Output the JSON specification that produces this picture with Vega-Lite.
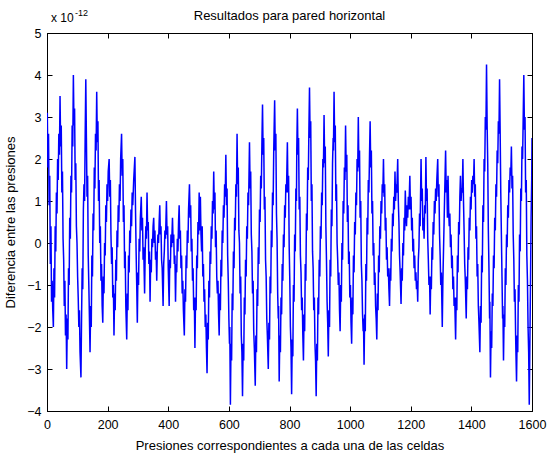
{
  "$schema": "https://vega.github.io/schema/vega-lite/v6.json",
  "width": 485,
  "height": 378,
  "autosize": {"type": "none"},
  "padding": {"left": 47, "top": 33, "right": 18, "bottom": 47},
  "background": "white",
  "config": {
    "view": {"stroke": "black", "strokeWidth": 1},
    "font": "Liberation Sans",
    "axis": {
      "grid": false,
      "domainColor": "black",
      "tickColor": "black",
      "labelColor": "black",
      "titleColor": "black",
      "labelFont": "Liberation Sans",
      "titleFont": "Liberation Sans",
      "labelFontSize": 12.5,
      "titleFontSize": 13,
      "titleFontWeight": "normal",
      "tickSize": -5
    },
    "title": {"font": "Liberation Sans", "fontSize": 13, "fontWeight": "normal", "color": "black"}
  },
  "title": {"text": "Resultados para pared horizontal", "offset": 0, "dy": 14, "anchor": "middle"},
  "data": {
    "values": [
      {"x":0,"y":2.4},{"x":1,"y":3.1},{"x":3,"y":1.8},{"x":5,"y":2.6},{"x":7,"y":0.9},{"x":9,"y":1.6},{"x":11,"y":-0.5},{"x":13,"y":0.4},{"x":15,"y":-1.4},{"x":17,"y":-0.9},{"x":19,"y":-1.6},{"x":21,"y":-2.0},
      {"x":23,"y":-0.6},{"x":25,"y":-1.3},{"x":27,"y":0.4},{"x":29,"y":-0.2},{"x":31,"y":1.2},{"x":33,"y":0.7},{"x":35,"y":2.0},{"x":37,"y":1.5},{"x":39,"y":2.6},{"x":41,"y":2.1},{"x":43,"y":3.5},
      {"x":45,"y":2.3},{"x":47,"y":2.8},{"x":49,"y":1.2},{"x":51,"y":1.7},{"x":53,"y":0.1},{"x":55,"y":-0.4},{"x":57,"y":-1.5},{"x":59,"y":-0.9},{"x":61,"y":-2.2},{"x":63,"y":-1.7},{"x":65,"y":-3.0},
      {"x":67,"y":-1.8},{"x":69,"y":-2.3},{"x":71,"y":-0.6},{"x":73,"y":-1.0},{"x":75,"y":0.6},{"x":77,"y":0.1},{"x":79,"y":1.6},{"x":81,"y":1.2},{"x":83,"y":2.8},{"x":85,"y":2.3},{"x":87,"y":4.0},
      {"x":89,"y":2.8},{"x":91,"y":3.2},{"x":93,"y":1.5},{"x":95,"y":1.9},{"x":97,"y":0.4},{"x":99,"y":0.0},{"x":101,"y":-0.8},{"x":103,"y":-1.3},{"x":105,"y":-2.0},{"x":107,"y":-1.6},{"x":109,"y":-2.6},{"x":112,"y":-3.2},
      {"x":114,"y":-1.8},{"x":116,"y":-0.6},{"x":118,"y":-1.1},{"x":120,"y":0.8},{"x":122,"y":1.4},{"x":124,"y":1.0},{"x":126,"y":2.6},{"x":128,"y":3.9},
      {"x":130,"y":2.5},{"x":132,"y":1.1},{"x":134,"y":1.6},{"x":136,"y":-0.3},{"x":138,"y":-1.0},{"x":140,"y":-1.8},{"x":142,"y":-2.6},
      {"x":144,"y":-1.5},{"x":146,"y":-2.0},{"x":148,"y":-0.3},{"x":150,"y":-0.8},{"x":152,"y":0.7},{"x":154,"y":0.3},{"x":156,"y":1.8},{"x":158,"y":1.3},{"x":160,"y":2.6},{"x":162,"y":2.2},{"x":164,"y":3.6},
      {"x":166,"y":2.4},{"x":168,"y":2.9},{"x":170,"y":1.0},{"x":172,"y":1.5},{"x":174,"y":0.0},{"x":176,"y":0.4},{"x":178,"y":-0.9},{"x":180,"y":-0.5},{"x":182,"y":-1.5},{"x":184,"y":-1.9},
      {"x":186,"y":-0.8},{"x":188,"y":-1.2},{"x":190,"y":0.0},{"x":192,"y":-0.3},{"x":194,"y":0.9},{"x":196,"y":0.5},{"x":198,"y":1.4},{"x":200,"y":1.0},{"x":202,"y":1.7},{"x":205,"y":2.0},
      {"x":207,"y":1.1},{"x":209,"y":1.5},{"x":211,"y":0.2},{"x":213,"y":-0.5},{"x":215,"y":-0.1},{"x":217,"y":-1.3},{"x":219,"y":-1.0},{"x":221,"y":-2.2},
      {"x":223,"y":-1.2},{"x":225,"y":-1.6},{"x":227,"y":-0.4},{"x":229,"y":-0.9},{"x":231,"y":0.3},{"x":233,"y":-0.1},{"x":235,"y":0.9},{"x":237,"y":0.5},{"x":239,"y":1.4},{"x":241,"y":1.0},{"x":243,"y":2.0},{"x":246,"y":2.6},
      {"x":248,"y":1.6},{"x":250,"y":2.0},{"x":252,"y":0.5},{"x":254,"y":0.9},{"x":256,"y":-0.6},{"x":258,"y":-0.2},{"x":260,"y":-1.5},{"x":263,"y":-2.3},
      {"x":265,"y":-1.2},{"x":267,"y":-1.6},{"x":269,"y":-0.3},{"x":271,"y":-0.7},{"x":273,"y":0.3},{"x":275,"y":0.0},{"x":277,"y":0.8},{"x":279,"y":0.4},{"x":281,"y":1.2},{"x":283,"y":0.9},{"x":286,"y":1.5},{"x":290,"y":2.05},
      {"x":292,"y":0.8},{"x":294,"y":-0.2},{"x":296,"y":-1.0},{"x":298,"y":-1.9},
      {"x":300,"y":-0.7},{"x":302,"y":-1.0},{"x":304,"y":0.1},{"x":306,"y":-0.2},{"x":308,"y":0.6},{"x":311,"y":1.1},
      {"x":313,"y":0.3},{"x":315,"y":0.6},{"x":317,"y":-0.4},{"x":319,"y":-0.1},{"x":322,"y":-1.2},
      {"x":324,"y":-0.2},{"x":326,"y":0.4},{"x":328,"y":0.1},{"x":330,"y":1.2},
      {"x":332,"y":0.3},{"x":334,"y":0.5},{"x":336,"y":-0.5},{"x":338,"y":-0.2},{"x":340,"y":-1.4},
      {"x":342,"y":-0.4},{"x":344,"y":-0.7},{"x":346,"y":0.1},{"x":348,"y":-0.1},{"x":350,"y":0.4},{"x":352,"y":0.6},
      {"x":354,"y":0.0},{"x":356,"y":0.3},{"x":358,"y":-0.4},{"x":360,"y":-0.2},{"x":362,"y":-0.9},
      {"x":364,"y":-0.1},{"x":366,"y":0.2},{"x":368,"y":0.0},{"x":370,"y":0.5},{"x":372,"y":0.9},
      {"x":374,"y":0.2},{"x":376,"y":0.4},{"x":378,"y":-0.4},{"x":380,"y":-0.6},{"x":383,"y":-1.5},
      {"x":385,"y":-0.5},{"x":387,"y":-0.2},{"x":389,"y":0.3},{"x":391,"y":0.1},{"x":394,"y":1.0},
      {"x":396,"y":0.2},{"x":398,"y":0.4},{"x":400,"y":-0.6},{"x":403,"y":-1.5},
      {"x":405,"y":-0.4},{"x":407,"y":-0.6},{"x":409,"y":0.2},{"x":411,"y":-0.1},{"x":414,"y":0.6},
      {"x":416,"y":0.0},{"x":418,"y":0.2},{"x":420,"y":-0.5},{"x":422,"y":-0.3},{"x":424,"y":-1.4},
      {"x":426,"y":-0.5},{"x":428,"y":-0.7},{"x":430,"y":0.1},{"x":432,"y":-0.2},{"x":434,"y":0.5},{"x":436,"y":0.9},
      {"x":438,"y":0.1},{"x":440,"y":0.3},{"x":442,"y":-0.6},{"x":444,"y":-0.3},{"x":446,"y":-1.2},{"x":448,"y":-0.9},{"x":450,"y":-1.6},{"x":453,"y":-2.2},
      {"x":455,"y":-1.1},{"x":457,"y":-1.4},{"x":459,"y":-0.3},{"x":461,"y":-0.6},{"x":463,"y":0.3},{"x":465,"y":0.0},{"x":467,"y":0.8},{"x":470,"y":1.4},
      {"x":472,"y":0.6},{"x":474,"y":0.9},{"x":476,"y":-0.2},{"x":478,"y":0.1},{"x":480,"y":-0.9},{"x":482,"y":-0.6},{"x":484,"y":-1.6},{"x":486,"y":-1.3},{"x":488,"y":-2.5},
      {"x":490,"y":-1.3},{"x":492,"y":-1.6},{"x":494,"y":-0.3},{"x":496,"y":-0.6},{"x":498,"y":0.5},{"x":500,"y":0.2},{"x":502,"y":1.2},
      {"x":504,"y":0.3},{"x":506,"y":1.1},{"x":508,"y":0.2},{"x":510,"y":-0.2},{"x":512,"y":0.4},{"x":514,"y":-0.8},{"x":516,"y":-0.5},{"x":518,"y":-1.4},{"x":520,"y":-1.1},{"x":522,"y":-2.0},{"x":524,"y":-1.7},{"x":526,"y":-2.5},{"x":528,"y":-3.1},
      {"x":530,"y":-1.9},{"x":532,"y":-2.3},{"x":534,"y":-0.9},{"x":536,"y":-1.3},{"x":538,"y":-0.2},{"x":540,"y":-0.5},{"x":542,"y":0.4},{"x":544,"y":0.1},{"x":546,"y":1.0},{"x":548,"y":0.7},{"x":550,"y":1.7},
      {"x":552,"y":0.8},{"x":554,"y":1.2},{"x":556,"y":-0.1},{"x":558,"y":0.3},{"x":560,"y":-0.8},{"x":562,"y":-1.2},{"x":564,"y":-0.9},{"x":566,"y":-1.7},{"x":568,"y":-2.2},
      {"x":570,"y":-1.2},{"x":572,"y":-1.6},{"x":574,"y":-0.4},{"x":576,"y":-0.8},{"x":578,"y":0.3},{"x":580,"y":0.0},{"x":582,"y":0.9},{"x":584,"y":0.6},{"x":586,"y":1.4},{"x":588,"y":1.1},{"x":590,"y":2.1},
      {"x":592,"y":0.9},{"x":594,"y":1.3},{"x":596,"y":-0.3},{"x":598,"y":-0.9},{"x":600,"y":-1.8},{"x":602,"y":-2.4},{"x":603,"y":-2.0},{"x":605,"y":-3.85},
      {"x":607,"y":-2.4},{"x":609,"y":-2.8},{"x":611,"y":-1.2},{"x":613,"y":-1.6},{"x":615,"y":-0.2},{"x":617,"y":-0.6},{"x":619,"y":0.6},{"x":621,"y":0.3},{"x":623,"y":1.4},{"x":625,"y":1.1},{"x":627,"y":2.6},
      {"x":629,"y":1.4},{"x":631,"y":1.8},{"x":633,"y":0.3},{"x":635,"y":0.0},{"x":637,"y":-1.2},{"x":639,"y":-0.8},{"x":641,"y":-2.2},{"x":643,"y":-2.6},{"x":645,"y":-3.65},
      {"x":647,"y":-2.4},{"x":649,"y":-2.8},{"x":651,"y":-1.3},{"x":653,"y":-1.7},{"x":655,"y":-0.4},{"x":657,"y":-0.8},{"x":659,"y":0.4},{"x":661,"y":0.1},{"x":663,"y":1.2},{"x":665,"y":0.9},{"x":668,"y":2.4},
      {"x":670,"y":1.3},{"x":672,"y":1.7},{"x":674,"y":0.2},{"x":676,"y":-0.2},{"x":678,"y":-1.2},{"x":680,"y":-0.9},{"x":682,"y":-2.1},{"x":684,"y":-2.5},{"x":687,"y":-3.4},
      {"x":689,"y":-2.2},{"x":691,"y":-2.6},{"x":693,"y":-1.1},{"x":695,"y":-1.5},{"x":697,"y":-0.1},{"x":699,"y":-0.5},{"x":701,"y":0.8},{"x":703,"y":0.5},{"x":705,"y":1.6},{"x":707,"y":1.3},{"x":709,"y":2.4},{"x":711,"y":3.3},
      {"x":713,"y":2.1},{"x":715,"y":2.5},{"x":717,"y":0.8},{"x":719,"y":1.1},{"x":721,"y":-0.4},{"x":723,"y":-0.8},{"x":725,"y":-1.8},{"x":727,"y":-2.2},{"x":730,"y":-3.0},
      {"x":732,"y":-1.9},{"x":734,"y":-2.3},{"x":736,"y":-0.8},{"x":738,"y":-1.2},{"x":740,"y":0.3},{"x":742,"y":-0.1},{"x":744,"y":1.2},{"x":746,"y":0.9},{"x":748,"y":2.2},{"x":751,"y":3.4},
      {"x":753,"y":2.2},{"x":755,"y":2.6},{"x":757,"y":0.7},{"x":759,"y":0.1},{"x":761,"y":-1.2},{"x":763,"y":-1.8},{"x":764,"y":-1.5},{"x":766,"y":-3.3},
      {"x":768,"y":-2.2},{"x":770,"y":-2.6},{"x":772,"y":-1.3},{"x":774,"y":-1.7},{"x":776,"y":-0.5},{"x":778,"y":-0.9},{"x":780,"y":0.2},{"x":782,"y":-0.1},{"x":784,"y":0.9},{"x":786,"y":0.6},{"x":788,"y":1.4},{"x":790,"y":1.2},{"x":793,"y":2.4},
      {"x":795,"y":1.2},{"x":797,"y":1.6},{"x":799,"y":-0.1},{"x":801,"y":-0.9},{"x":803,"y":-2.0},{"x":805,"y":-2.5},{"x":807,"y":-3.6},
      {"x":809,"y":-2.3},{"x":811,"y":-2.7},{"x":813,"y":-1.0},{"x":815,"y":-1.4},{"x":817,"y":0.2},{"x":819,"y":-0.2},{"x":821,"y":1.3},{"x":823,"y":1.0},{"x":824,"y":2.2},{"x":826,"y":3.2},
      {"x":828,"y":2.1},{"x":830,"y":2.5},{"x":832,"y":0.8},{"x":834,"y":1.1},{"x":836,"y":-0.3},{"x":838,"y":-0.7},{"x":840,"y":-1.6},{"x":842,"y":-1.3},{"x":844,"y":-2.2},{"x":846,"y":-2.8},
      {"x":848,"y":-1.7},{"x":850,"y":-2.1},{"x":852,"y":-0.5},{"x":854,"y":-0.9},{"x":856,"y":0.7},{"x":858,"y":0.3},{"x":860,"y":1.8},{"x":862,"y":1.5},{"x":864,"y":2.7},{"x":866,"y":3.7},
      {"x":868,"y":2.5},{"x":870,"y":2.9},{"x":872,"y":1.0},{"x":874,"y":1.4},{"x":876,"y":-0.2},{"x":878,"y":-0.6},{"x":880,"y":-1.6},{"x":882,"y":-1.3},{"x":884,"y":-2.4},{"x":886,"y":-2.8},{"x":888,"y":-3.65},
      {"x":890,"y":-2.4},{"x":892,"y":-2.8},{"x":894,"y":-1.3},{"x":896,"y":-1.7},{"x":898,"y":-0.4},{"x":900,"y":-0.8},{"x":902,"y":0.4},{"x":904,"y":0.1},{"x":906,"y":1.2},{"x":908,"y":0.9},{"x":910,"y":2.0},{"x":912,"y":1.8},{"x":914,"y":3.05},
      {"x":916,"y":1.9},{"x":918,"y":2.3},{"x":920,"y":0.4},{"x":922,"y":-0.4},{"x":924,"y":-1.4},{"x":926,"y":-1.9},{"x":928,"y":-2.7},
      {"x":930,"y":-1.6},{"x":932,"y":-2.0},{"x":934,"y":-0.4},{"x":936,"y":-0.8},{"x":938,"y":0.8},{"x":940,"y":0.4},{"x":942,"y":1.9},{"x":944,"y":2.5},{"x":945,"y":2.2},{"x":947,"y":3.6},
      {"x":949,"y":2.4},{"x":951,"y":2.8},{"x":953,"y":1.0},{"x":955,"y":1.4},{"x":957,"y":0.0},{"x":959,"y":-0.4},{"x":961,"y":-1.0},{"x":963,"y":-0.7},{"x":965,"y":-1.6},{"x":967,"y":-2.1},
      {"x":969,"y":-1.0},{"x":971,"y":-1.4},{"x":973,"y":0.0},{"x":975,"y":-0.4},{"x":977,"y":1.0},{"x":979,"y":0.7},{"x":981,"y":1.8},{"x":983,"y":1.5},{"x":985,"y":2.8},
      {"x":987,"y":1.7},{"x":989,"y":2.1},{"x":991,"y":0.5},{"x":993,"y":0.9},{"x":995,"y":-0.5},{"x":997,"y":-0.2},{"x":999,"y":-1.3},{"x":1001,"y":-1.0},{"x":1003,"y":-1.9},{"x":1005,"y":-2.4},
      {"x":1007,"y":-1.3},{"x":1009,"y":-1.7},{"x":1011,"y":-0.3},{"x":1013,"y":-0.7},{"x":1015,"y":0.5},{"x":1017,"y":0.2},{"x":1019,"y":1.2},{"x":1021,"y":0.9},{"x":1023,"y":2.0},{"x":1025,"y":1.7},{"x":1027,"y":3.0},
      {"x":1029,"y":1.8},{"x":1031,"y":2.2},{"x":1033,"y":0.6},{"x":1035,"y":1.0},{"x":1037,"y":-0.5},{"x":1039,"y":-0.9},{"x":1041,"y":-1.7},{"x":1043,"y":-2.1},{"x":1044,"y":-1.8},{"x":1046,"y":-2.9},
      {"x":1048,"y":-1.7},{"x":1050,"y":-2.1},{"x":1052,"y":-0.5},{"x":1054,"y":-0.9},{"x":1056,"y":0.6},{"x":1058,"y":0.2},{"x":1060,"y":1.5},{"x":1062,"y":1.2},{"x":1064,"y":2.1},{"x":1066,"y":2.9},
      {"x":1068,"y":1.8},{"x":1070,"y":2.2},{"x":1072,"y":0.7},{"x":1074,"y":1.0},{"x":1076,"y":-0.3},{"x":1078,"y":0.0},{"x":1080,"y":-1.0},{"x":1082,"y":-0.7},{"x":1084,"y":-1.5},{"x":1086,"y":-1.8},{"x":1088,"y":-2.3},
      {"x":1090,"y":-1.2},{"x":1092,"y":-1.6},{"x":1094,"y":-0.3},{"x":1096,"y":-0.7},{"x":1098,"y":0.4},{"x":1100,"y":0.1},{"x":1102,"y":1.0},{"x":1104,"y":0.7},{"x":1106,"y":1.4},{"x":1108,"y":1.2},{"x":1110,"y":2.0},
      {"x":1112,"y":1.1},{"x":1114,"y":1.4},{"x":1116,"y":0.3},{"x":1118,"y":0.6},{"x":1120,"y":-0.4},{"x":1122,"y":-0.1},{"x":1124,"y":-0.8},{"x":1126,"y":-0.6},{"x":1128,"y":-1.1},{"x":1130,"y":-1.5},
      {"x":1132,"y":-0.6},{"x":1134,"y":-0.9},{"x":1136,"y":0.1},{"x":1138,"y":-0.2},{"x":1140,"y":0.7},{"x":1142,"y":0.4},{"x":1144,"y":1.1},{"x":1146,"y":0.8},{"x":1148,"y":1.7},{"x":1150,"y":1.0},{"x":1152,"y":1.4},{"x":1154,"y":1.2},{"x":1157,"y":2.0},
      {"x":1159,"y":1.0},{"x":1161,"y":0.5},{"x":1163,"y":-0.3},{"x":1165,"y":-0.7},{"x":1168,"y":-1.45},
      {"x":1170,"y":-0.6},{"x":1172,"y":-0.9},{"x":1174,"y":0.0},{"x":1176,"y":-0.3},{"x":1178,"y":0.6},{"x":1180,"y":0.3},{"x":1182,"y":1.25},{"x":1184,"y":0.7},{"x":1186,"y":0.4},{"x":1188,"y":0.9},{"x":1190,"y":0.6},{"x":1192,"y":1.1},{"x":1194,"y":0.8},{"x":1197,"y":1.6},
      {"x":1199,"y":0.8},{"x":1201,"y":1.1},{"x":1203,"y":0.3},{"x":1205,"y":0.6},{"x":1207,"y":-0.2},{"x":1209,"y":0.1},{"x":1211,"y":-0.6},{"x":1213,"y":-0.3},{"x":1215,"y":-0.9},{"x":1217,"y":-0.7},{"x":1219,"y":-1.1},{"x":1221,"y":-0.9},{"x":1223,"y":-1.4},
      {"x":1225,"y":-0.4},{"x":1227,"y":-0.1},{"x":1229,"y":0.7},{"x":1231,"y":0.4},{"x":1234,"y":2.0},
      {"x":1236,"y":1.0},{"x":1238,"y":1.3},{"x":1240,"y":0.3},{"x":1242,"y":0.6},{"x":1244,"y":0.1},{"x":1246,"y":0.9},{"x":1248,"y":0.7},{"x":1250,"y":2.05},
      {"x":1252,"y":1.0},{"x":1254,"y":1.3},{"x":1256,"y":0.1},{"x":1258,"y":-0.4},{"x":1260,"y":-1.0},{"x":1262,"y":-0.8},{"x":1264,"y":-1.7},
      {"x":1266,"y":-0.8},{"x":1268,"y":-1.1},{"x":1270,"y":-0.1},{"x":1272,"y":-0.4},{"x":1274,"y":0.5},{"x":1276,"y":0.2},{"x":1278,"y":1.0},{"x":1280,"y":0.7},{"x":1282,"y":1.3},{"x":1284,"y":1.0},{"x":1286,"y":1.5},{"x":1289,"y":2.0},
      {"x":1291,"y":1.1},{"x":1293,"y":1.4},{"x":1295,"y":0.2},{"x":1297,"y":-0.3},{"x":1299,"y":-1.0},{"x":1301,"y":-0.7},{"x":1304,"y":-2.0},
      {"x":1306,"y":-0.9},{"x":1308,"y":-0.2},{"x":1310,"y":0.5},{"x":1312,"y":1.2},{"x":1315,"y":2.2},
      {"x":1317,"y":1.2},{"x":1319,"y":1.5},{"x":1321,"y":0.6},{"x":1323,"y":1.6},{"x":1325,"y":0.8},{"x":1327,"y":0.4},{"x":1329,"y":0.7},{"x":1331,"y":-0.1},{"x":1333,"y":0.2},{"x":1335,"y":-0.6},{"x":1337,"y":-0.3},{"x":1339,"y":-1.1},{"x":1341,"y":-0.8},{"x":1343,"y":-1.5},{"x":1345,"y":-1.3},{"x":1348,"y":-2.3},
      {"x":1350,"y":-1.3},{"x":1352,"y":-1.6},{"x":1354,"y":-0.3},{"x":1356,"y":-0.7},{"x":1358,"y":0.5},{"x":1360,"y":0.2},{"x":1362,"y":1.1},{"x":1364,"y":1.6},{"x":1366,"y":1.0},{"x":1368,"y":1.3},{"x":1370,"y":1.2},{"x":1372,"y":2.0},
      {"x":1374,"y":1.0},{"x":1376,"y":0.3},{"x":1378,"y":-0.5},{"x":1380,"y":-0.9},{"x":1383,"y":-1.8},
      {"x":1385,"y":-0.8},{"x":1387,"y":-1.1},{"x":1389,"y":-0.1},{"x":1391,"y":-0.4},{"x":1393,"y":0.6},{"x":1395,"y":0.3},{"x":1397,"y":1.1},{"x":1399,"y":0.8},{"x":1401,"y":1.5},{"x":1403,"y":1.2},{"x":1405,"y":1.6},{"x":1407,"y":1.4},{"x":1409,"y":2.0},
      {"x":1411,"y":1.1},{"x":1413,"y":1.4},{"x":1415,"y":0.1},{"x":1417,"y":0.4},{"x":1419,"y":-0.8},{"x":1421,"y":-0.5},{"x":1423,"y":-1.5},{"x":1425,"y":-1.9},{"x":1428,"y":-2.6},
      {"x":1430,"y":-1.5},{"x":1432,"y":-1.9},{"x":1434,"y":-0.3},{"x":1436,"y":-0.7},{"x":1438,"y":0.9},{"x":1440,"y":0.5},{"x":1442,"y":2.0},{"x":1444,"y":1.7},{"x":1446,"y":3.0},{"x":1448,"y":2.7},{"x":1450,"y":4.25},
      {"x":1452,"y":2.8},{"x":1454,"y":1.9},{"x":1456,"y":0.3},{"x":1458,"y":-0.6},{"x":1460,"y":-1.8},{"x":1461,"y":-1.4},{"x":1463,"y":-3.2},
      {"x":1465,"y":-2.1},{"x":1467,"y":-2.5},{"x":1469,"y":-1.2},{"x":1471,"y":-1.5},{"x":1473,"y":-0.3},{"x":1475,"y":-0.6},{"x":1477,"y":0.6},{"x":1479,"y":0.3},{"x":1481,"y":1.4},{"x":1483,"y":1.1},{"x":1485,"y":2.2},{"x":1487,"y":1.9},{"x":1489,"y":2.9},{"x":1491,"y":2.6},{"x":1493,"y":3.9},
      {"x":1495,"y":2.6},{"x":1497,"y":1.2},{"x":1499,"y":0.2},{"x":1501,"y":-0.8},{"x":1503,"y":-1.8},{"x":1504,"y":-1.5},{"x":1506,"y":-2.8},
      {"x":1508,"y":-1.7},{"x":1510,"y":-2.0},{"x":1512,"y":-0.6},{"x":1514,"y":-1.0},{"x":1516,"y":0.2},{"x":1518,"y":-0.1},{"x":1520,"y":0.9},{"x":1522,"y":0.6},{"x":1524,"y":1.5},{"x":1526,"y":1.2},{"x":1528,"y":1.8},{"x":1530,"y":1.6},{"x":1532,"y":2.3},
      {"x":1534,"y":1.3},{"x":1536,"y":1.6},{"x":1538,"y":0.2},{"x":1540,"y":-0.4},{"x":1542,"y":-1.4},{"x":1544,"y":-1.1},{"x":1546,"y":-2.2},{"x":1547,"y":-2.6},{"x":1549,"y":-3.3},
      {"x":1551,"y":-2.2},{"x":1553,"y":-2.6},{"x":1555,"y":-1.0},{"x":1557,"y":-1.4},{"x":1559,"y":0.2},{"x":1561,"y":-0.2},{"x":1563,"y":1.3},{"x":1565,"y":1.0},{"x":1567,"y":2.3},{"x":1569,"y":2.0},{"x":1571,"y":3.0},{"x":1573,"y":4.0},
      {"x":1575,"y":2.7},{"x":1577,"y":3.0},{"x":1579,"y":1.2},{"x":1581,"y":1.5},{"x":1583,"y":-0.3},{"x":1585,"y":-0.9},{"x":1587,"y":-2.0},{"x":1589,"y":-2.6},{"x":1591,"y":-3.85},
      {"x":1593,"y":-2.4},{"x":1595,"y":-1.0},{"x":1597,"y":0.6},{"x":1599,"y":1.5},{"x":1600,"y":2.5}
    ]
  },
  "resolve": {"axis": {"x": "independent", "y": "independent"}},
  "layer": [
    {
      "mark": {"type": "line", "color": "#0000FF", "strokeWidth": 1.5, "clip": true},
      "encoding": {
        "x": {
          "field": "x", "type": "quantitative",
          "scale": {"domain": [0, 1600], "nice": false, "zero": false},
          "axis": {"orient": "bottom", "values": [0, 200, 400, 600, 800, 1000, 1200, 1400, 1600], "format": "d", "labelPadding": 12, "title": "Presiones correspondientes a cada una de las celdas", "titlePadding": 9, "labelFlush": false}
        },
        "y": {
          "field": "y", "type": "quantitative",
          "scale": {"domain": [-4, 5], "nice": false, "zero": false},
          "axis": {"orient": "left", "values": [-4, -3, -2, -1, 0, 1, 2, 3, 4, 5], "format": "d", "labelPadding": 11, "title": "Diferencia entre las presiones", "titlePadding": 9, "labelFlush": false}
        }
      }
    },
    {
      "mark": {"type": "line", "strokeOpacity": 0},
      "encoding": {
        "x": {
          "field": "x", "type": "quantitative",
          "axis": {"orient": "top", "values": [0, 200, 400, 600, 800, 1000, 1200, 1400, 1600], "labels": false, "title": null}
        },
        "y": {
          "field": "y", "type": "quantitative",
          "axis": {"orient": "right", "values": [-4, -3, -2, -1, 0, 1, 2, 3, 4, 5], "labels": false, "title": null}
        }
      }
    },
    {
      "data": {"values": [{"label": "x 10"}]},
      "mark": {"type": "text", "align": "left", "baseline": "alphabetic", "dx": 4, "dy": -11, "fontSize": 12, "fontWeight": "normal", "font": "Liberation Sans", "color": "black"},
      "encoding": {
        "text": {"field": "label"},
        "x": {"datum": 0, "type": "quantitative", "axis": null},
        "y": {"datum": 5, "type": "quantitative", "axis": null}
      }
    },
    {
      "data": {"values": [{"label": "-12"}]},
      "mark": {"type": "text", "align": "left", "baseline": "alphabetic", "dx": 28, "dy": -17, "fontSize": 9, "fontWeight": "normal", "font": "Liberation Sans", "color": "black"},
      "encoding": {
        "text": {"field": "label"},
        "x": {"datum": 0, "type": "quantitative", "axis": null},
        "y": {"datum": 5, "type": "quantitative", "axis": null}
      }
    }
  ]
}
